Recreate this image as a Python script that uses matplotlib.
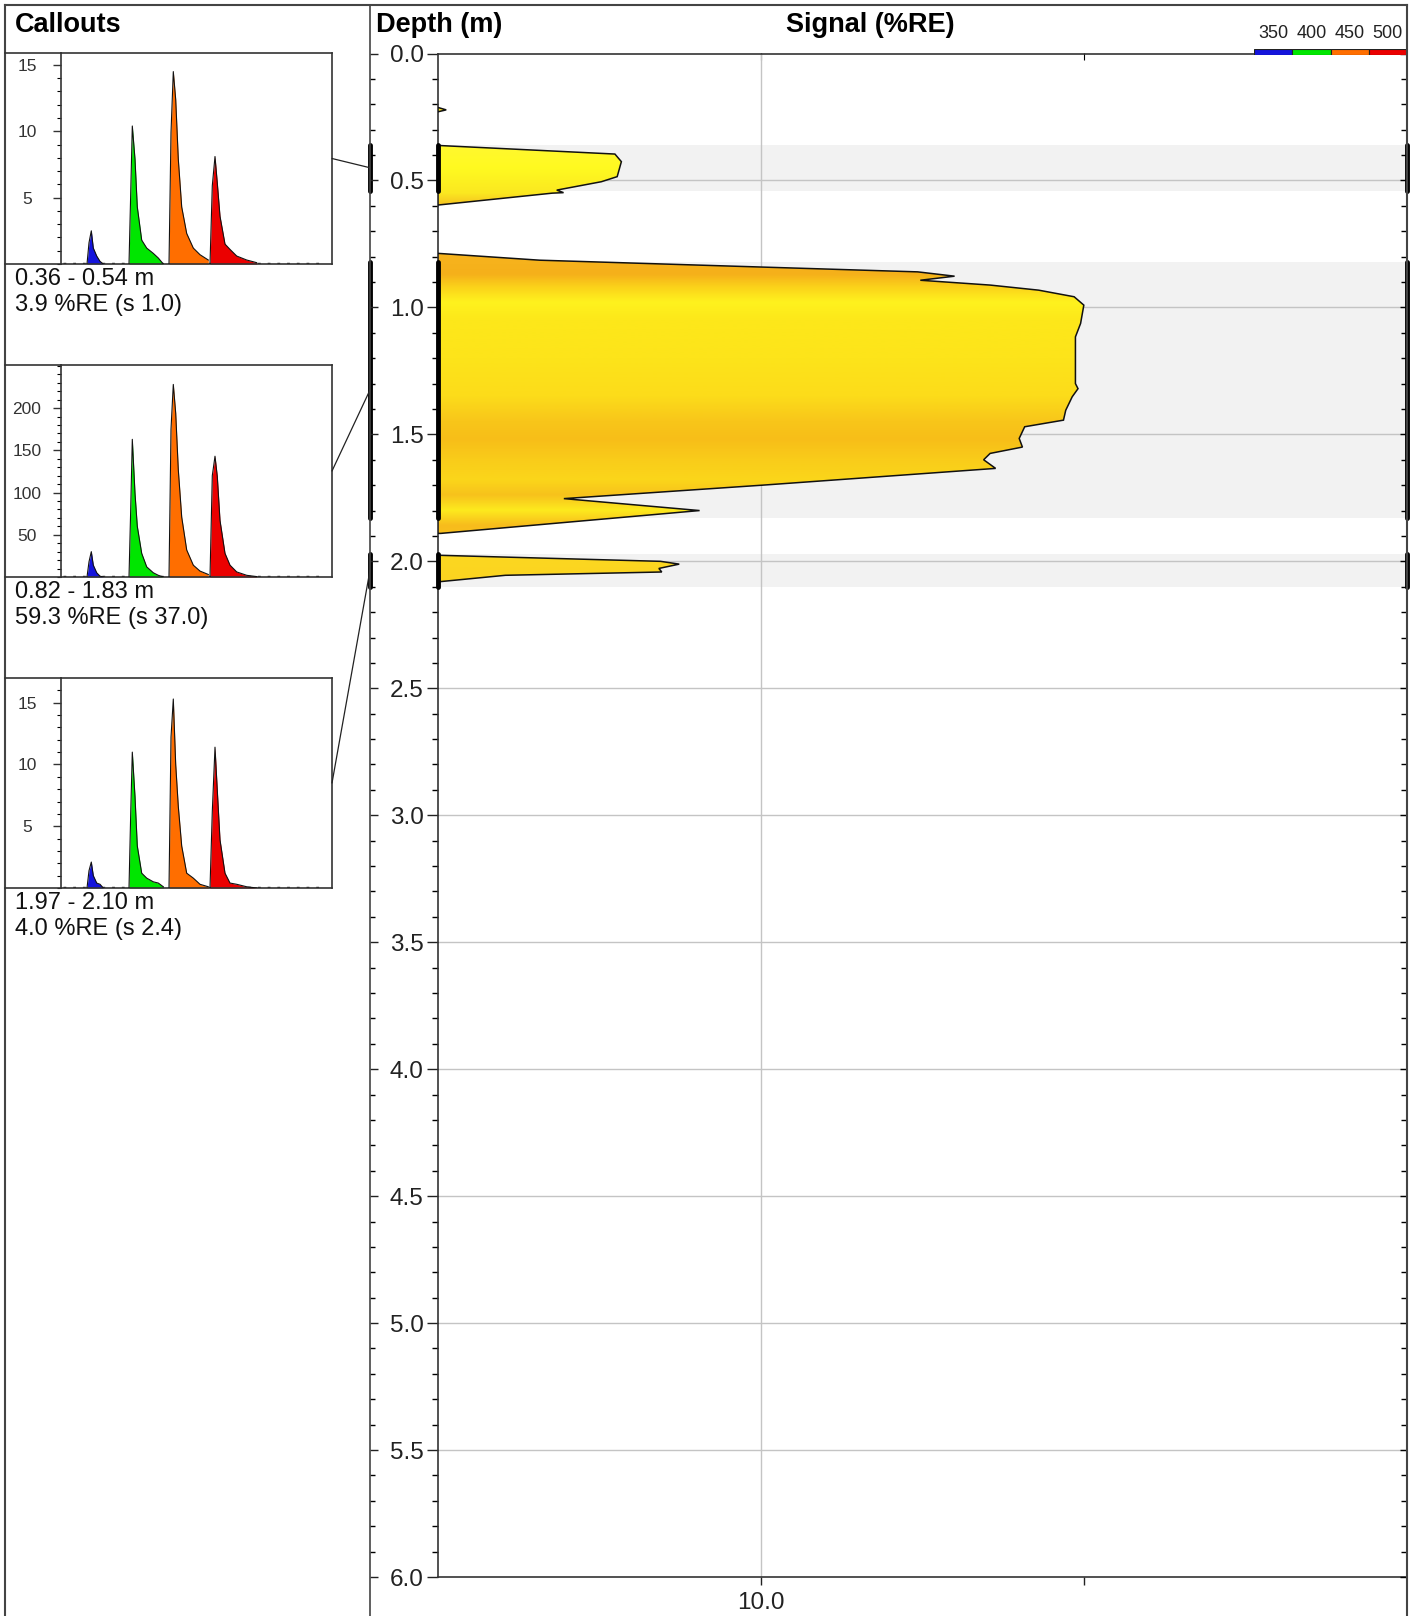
import numpy as np
import matplotlib
matplotlib.use("Agg")
import matplotlib.pyplot as plt
from matplotlib.patches import Polygon, ConnectionPatch
from matplotlib.lines import Line2D
from matplotlib.colors import to_rgb

plt.rcParams['font.family'] = ['Liberation Sans', 'DejaVu Sans']

W, H = 1419, 1616

# ---- data ----
DEPTH_TICKS = [0.0, 0.5, 1.0, 1.5, 2.0, 2.5, 3.0, 3.5, 4.0, 4.5, 5.0, 5.5, 6.0]
SIGNAL_TICKS = [10, 20]
SIGNAL_TICK_LABELS = ['10.0', '']
SIGNAL_GRID = [10]

# intervals with callouts
INTERVAL_TOP = [0.36, 0.82, 1.97]
INTERVAL_BOT = [0.54, 1.83, 2.10]
CALLOUT_RANGE = ['0.36 - 0.54 m', '0.82 - 1.83 m', '1.97 - 2.10 m']
CALLOUT_SIG = ['3.9 %RE (s 1.0)', '59.3 %RE (s 37.0)', '4.0 %RE (s 2.4)']
CALLOUT_YMAX = [15.9, 251, 17.0]
CALLOUT_YTICKS = [[5, 10, 15], [50, 100, 150, 200], [5, 10, 15]]
CALLOUT_YMINOR = [1, 10, 1]

# signal log, one outline per blob (signal %RE, depth m)
blob0_sig = [0, 0.27, 0]
blob0_dep = [0.212, 0.222, 0.230]
blob1_sig = [0, 5.49, 5.69, 5.56, 5.07, 3.69, 3.9, 3.55, 0]
blob1_dep = [0.362, 0.396, 0.426, 0.485, 0.505, 0.538, 0.548, 0.550, 0.597]
blob2_sig = [0, 3.16, 14.86, 16.0, 14.94, 17.1, 18.6, 19.7, 20.0, 19.9, 19.74,
             19.74, 19.82, 19.64, 19.44, 19.37, 18.17, 18.0, 18.1, 17.1, 16.9, 17.27,
             10.06, 3.91, 8.11, 0.1, 0]
blob2_dep = [0.787, 0.814, 0.860, 0.877, 0.893, 0.912, 0.932, 0.958, 0.991, 1.063, 1.116,
             1.300, 1.320, 1.352, 1.405, 1.444, 1.470, 1.516, 1.550, 1.575, 1.600, 1.634,
             1.700, 1.753, 1.800, 1.890, 1.890]
blob3_sig = [0, 6.9, 7.48, 6.85, 6.94, 2.1, 0]
blob3_dep = [1.976, 2.000, 2.011, 2.028, 2.042, 2.055, 2.081]

# colour of the fill along depth
COLOR_DEP = [0.20, 0.36, 0.45, 0.55, 0.60, 0.79, 0.83, 0.87, 0.92, 0.98, 1.05, 1.20, 1.35,
             1.45, 1.52, 1.60, 1.68, 1.74, 1.80, 1.86, 1.90, 1.97, 2.08]
COLOR_HEX = ['#fbe020', '#fff830', '#fffa20', '#fbe820', '#f5c020', '#f7b41e', '#f6b21c',
             '#f5b01a', '#fbd21a', '#fff21e', '#fde81a', '#fde41a', '#fcdc1a', '#f8c61a',
             '#f7be18', '#f9cc1a', '#fbd61a', '#f7c21c', '#fdea1e', '#f7bc1c', '#f8c01c',
             '#fcd820', '#fbd420']

# waveform channels (sample position inside the callout plot)
LEGEND_LABELS = ['350', '400', '450', '500']
CH_COLORS = ['#1414dc', '#00e600', '#ff6e00', '#eb0000']
blue_x = [26, 28, 30.3, 32.3, 35.7, 39, 42.3]
green_x = [68, 69.7, 71.3, 74, 76.3, 80.7, 85.7, 92.3, 97.3, 102.3]
orange_x = [108, 110, 112.3, 114.7, 117.3, 120.7, 125.7, 132.3, 139, 147.3]
red_x = [149, 151.3, 154, 156.3, 159, 164, 169, 175.7, 185.7, 195.7]

c1_blue = [0, 1.6, 2.5, 1.2, 0.6, 0.2, 0]
c1_green = [0, 5.3, 10.4, 7.9, 4.3, 1.8, 1.2, 0.8, 0.45, 0]
c1_orange = [0, 9.9, 14.5, 12.4, 7.9, 4.3, 2.3, 1.2, 0.7, 0.3]
c1_red = [0, 5.9, 8.1, 6.1, 3.6, 1.5, 1.1, 0.6, 0.3, 0.1]

c2_blue = [0, 18, 30, 14, 5, 1, 0]
c2_green = [0, 80, 163, 99, 60, 28, 12, 5, 2, 0]
c2_orange = [0, 175, 228, 194, 127, 71, 32, 14, 7, 3]
c2_red = [0, 120, 143, 119, 67, 28, 14, 6, 2, 0.5]

c3_blue = [0, 1.4, 2.1, 1.0, 0.4, 0.3, 0]
c3_green = [0, 6.0, 11.0, 7.4, 3.4, 1.2, 0.8, 0.5, 0.4, 0.1]
c3_orange = [0, 12.2, 15.3, 10.0, 6.6, 3.4, 1.2, 0.8, 0.3, 0.1]
c3_red = [0, 6.2, 11.4, 7.9, 3.9, 1.2, 0.4, 0.3, 0.1, 0]

# ---- layout in pixels ----
def fx(x):
    return x / W

def fy(y):
    return 1 - y / H

XL, XR = 437.5, 1407          # main plot left / right
YT, YB = 53.5, 1577           # main plot top / bottom
XDIV = 370                    # divider between callouts and depth track
BOX_X0, BOX_AX, BOX_X1 = 5, 61, 332
BOX_Y = [(53, 264), (365, 577), (678, 888)]

fig = plt.figure(figsize=(W / 100, H / 100), dpi=100)

# outer frame
fig.add_artist(Line2D([fx(5), fx(5)], [fy(5), fy(H)], color='#444444', lw=1.5))
fig.add_artist(Line2D([fx(5), fx(XR)], [fy(5), fy(5)], color='#444444', lw=1.5))
fig.add_artist(Line2D([fx(XR), fx(XR)], [fy(5), fy(H)], color='#444444', lw=1.5))
fig.add_artist(Line2D([fx(XDIV), fx(XDIV)], [fy(5), fy(H)], color='#444444', lw=1.2))

# headers
fig.text(fx(15), fy(25), 'Callouts', fontsize=19.5, fontweight='bold', va='center', ha='left')
fig.text(fx(376), fy(25), 'Depth (m)', fontsize=19.5, fontweight='bold', va='center', ha='left')
fig.text(fx(870), fy(25), 'Signal (%RE)', fontsize=19.5, fontweight='bold', va='center', ha='center')

# ---- main signal panel ----
ax = fig.add_axes([fx(XL), fy(YB), fx(XR) - fx(XL), fy(YT) - fy(YB)])
ax.set_xlim(0, 30)
ax.set_ylim(6, 0)

for a, b in zip(INTERVAL_TOP, INTERVAL_BOT):
    ax.axhspan(a, b, color='#f2f2f2', zorder=0, lw=0)
for d in DEPTH_TICKS[1:-1]:
    ax.axhline(d, color='#c4c4c4', lw=1, zorder=0.5)
for s in SIGNAL_GRID:
    ax.axvline(s, color='#c4c4c4', lw=1, zorder=0.5)

# colour strip along depth, clipped to each blob
dgrid = np.linspace(0, 2.2, 881)
rgb = np.array([to_rgb(c) for c in COLOR_HEX])
strip = np.zeros((len(dgrid), 1, 3))
for k in range(3):
    strip[:, 0, k] = np.interp(dgrid, COLOR_DEP, rgb[:, k])

for sig, dep in [(blob0_sig, blob0_dep), (blob1_sig, blob1_dep),
                 (blob2_sig, blob2_dep), (blob3_sig, blob3_dep)]:
    poly = Polygon(np.column_stack([sig, dep]), closed=True, facecolor='none',
                   edgecolor='#111111', lw=1.1, zorder=3)
    ax.add_patch(poly)
    im = ax.imshow(strip, extent=(0, 30, 2.2, 0), origin='upper', aspect='auto',
                   interpolation='bilinear', zorder=2)
    im.set_clip_path(poly)

ax.set_xlim(0, 30)
ax.set_ylim(6, 0)

ax.set_yticks(DEPTH_TICKS)
ax.set_yticklabels(['%.1f' % d for d in DEPTH_TICKS], fontsize=17.5)
ax.set_yticks(np.arange(0, 6.001, 0.1), minor=True)
ax.tick_params(axis='y', which='major', direction='out', length=8, width=1, pad=2,
               right=False, colors='#222222')
ax.tick_params(axis='y', which='minor', direction='out', length=4, width=1, right=False)
ax.set_xticks(SIGNAL_TICKS)
ax.set_xticklabels(SIGNAL_TICK_LABELS, fontsize=17.5)
ax.tick_params(axis='x', which='major', direction='out', length=6, width=1, pad=5,
               colors='#222222')
for sp in ax.spines.values():
    sp.set_color('#333333')
    sp.set_linewidth(1.2)

# right-side ticks point inwards: draw them on a twin
axr = ax.twinx()
axr.set_ylim(6, 0)
axr.set_yticks(DEPTH_TICKS)
axr.set_yticks(np.arange(0, 6.001, 0.1), minor=True)
axr.tick_params(axis='y', which='both', direction='in', length=4, width=1, labelright=False)
axr.yaxis.set_tick_params(which='major', length=5)
for sp in axr.spines.values():
    sp.set_visible(False)

secx = ax.secondary_xaxis('top')
secx.set_xticks(SIGNAL_TICKS)
secx.tick_params(direction='in', length=5, labeltop=False)
secx.spines['top'].set_visible(False)

# depth track ticks on the divider side
tax = fig.add_axes([fx(XDIV), fy(YB), fx(XL) - fx(XDIV), fy(YT) - fy(YB)])
tax.set_ylim(6, 0)
tax.set_yticks(DEPTH_TICKS)
tax.set_yticks(np.arange(0, 6.001, 0.1), minor=True)
tax.tick_params(axis='y', which='major', direction='in', length=5.5, width=1, labelleft=False,
                colors='#222222')
tax.tick_params(axis='y', which='minor', direction='in', length=3.5, width=1)
tax.set_xticks([])
tax.patch.set_alpha(0)
for sp in tax.spines.values():
    sp.set_visible(False)

# thick markers for each interval
div_frac = (XDIV - XL) / (XR - XL)
ytr = ax.get_yaxis_transform()
for a, b in zip(INTERVAL_TOP, INTERVAL_BOT):
    for xf in [div_frac, 0.0, 1.0]:
        ax.plot([xf, xf], [a, b], transform=ytr, color='black', lw=3.5, clip_on=False,
                solid_capstyle='round', zorder=6)

# legend strip at top right
lax = fig.add_axes([fx(1254), fy(55.3), fx(XR) - fx(1254), fy(49.3) - fy(55.3)])
lax.barh([0] * 4, [1] * 4, left=range(4), color=CH_COLORS, edgecolor='#222222', lw=0.8,
         height=1)
lax.set_xlim(0, 4)
lax.set_ylim(-0.5, 0.5)
lax.axis('off')
for i, lab in enumerate(LEGEND_LABELS):
    lax.text(i + 0.5, 3.2, lab, transform=lax.transData, ha='center', va='center',
             fontsize=13, color='#222222', clip_on=False)

# ---- callouts ----
callout_data = [
    (c1_blue, c1_green, c1_orange, c1_red),
    (c2_blue, c2_green, c2_orange, c2_red),
    (c3_blue, c3_green, c3_orange, c3_red),
]
chan_x = [blue_x, green_x, orange_x, red_x]

for i in range(3):
    top, bot = BOX_Y[i]
    # box edges left of the small axis
    fig.add_artist(Line2D([fx(BOX_X0), fx(BOX_AX)], [fy(top), fy(top)], color='#333333', lw=1.2))
    fig.add_artist(Line2D([fx(BOX_X0), fx(BOX_AX)], [fy(bot), fy(bot)], color='#333333', lw=1.2))

    cax = fig.add_axes([fx(BOX_AX), fy(bot), fx(BOX_X1) - fx(BOX_AX), fy(top) - fy(bot)])
    cax.set_xlim(0, 271)
    cax.set_ylim(0, CALLOUT_YMAX[i])
    for xs, ys, col in zip(chan_x, callout_data[i], CH_COLORS):
        cax.fill_between(xs, ys, 0, color=col, lw=0, zorder=2)
        cax.plot(xs, ys, color='#111111', lw=0.8, zorder=3)
    # noisy baseline
    cax.plot([2, 262], [CALLOUT_YMAX[i] * 0.006] * 2, color='#111111', lw=1,
             ls=(0, (2, 5)), zorder=1)
    cax.set_xticks([])
    cax.set_yticks(CALLOUT_YTICKS[i])
    cax.set_yticks(np.arange(0, CALLOUT_YMAX[i], CALLOUT_YMINOR[i]), minor=True)
    cax.tick_params(axis='y', which='major', direction='out', length=5.5, width=1,
                    labelsize=12.5, pad=19, colors='#333333')
    cax.tick_params(axis='y', which='minor', direction='out', length=3, width=0.8)
    for t in cax.get_yticklabels():
        t.set_horizontalalignment('center')
    for sp in cax.spines.values():
        sp.set_color('#333333')
        sp.set_linewidth(1.2)

    fig.text(fx(15), fy(bot + 15), CALLOUT_RANGE[i], fontsize=17, va='center', ha='left',
             color='#111111')
    fig.text(fx(15), fy(bot + 41), CALLOUT_SIG[i], fontsize=17, va='center', ha='left',
             color='#111111')

    mid = 0.5 * (INTERVAL_TOP[i] + INTERVAL_BOT[i])
    con = ConnectionPatch(xyA=(1, 0.5), coordsA=cax.transAxes,
                          xyB=(div_frac, mid), coordsB=ytr,
                          color='#222222', lw=0.9)
    fig.add_artist(con)

fig.savefig('out.png', dpi=100)
